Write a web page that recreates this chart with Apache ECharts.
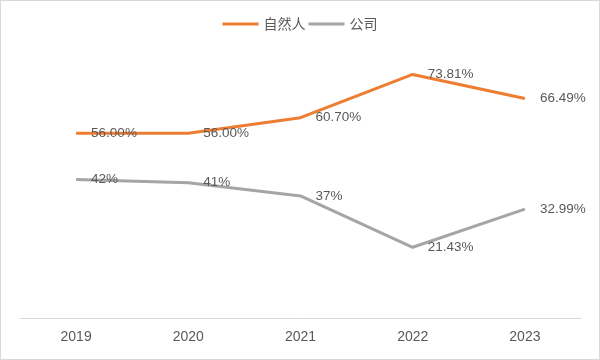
<!DOCTYPE html>
<html><head><meta charset="utf-8">
<script src="https://cdn.jsdelivr.net/npm/echarts@6/dist/echarts.min.js"></script>
<style>html,body{margin:0;padding:0;background:#fff}#c{width:600px;height:360px;box-sizing:border-box;border:1px solid #d9d9d9}</style>
</head><body><div id="c"></div>
<script>
const categories = ['2019','2020','2021','2022','2023'];
const naturalPerson = [56.00, 56.00, 60.70, 73.81, 66.49];
const naturalLabels = ['56.00%','56.00%','60.70%','73.81%','66.49%'];
const company = [42, 41, 37, 21.43, 32.99];
const companyLabels = ['42%','41%','37%','21.43%','32.99%'];
const seriesNames = ['自然人','公司'];

const font = '"Liberation Sans Narrow", "Arial Narrow", sans-serif';
const chart = echarts.init(document.getElementById('c'));
function mk(name, vals, labels, color){
  return {
    name, type:'line', data: vals, symbol:'circle', symbolSize:0, showSymbol:true, smooth:false,
    lineStyle:{width:3, color}, itemStyle:{color},
    label:{show:true, position:'right', distance:15, color:'#595959', fontSize:13.5, fontFamily:font,
      formatter: p => labels[p.dataIndex]}
  };
}
chart.setOption({
  animation:false,
  legend:{top:11, left:'center', itemWidth:36, itemHeight:3, itemGap:3,
    textStyle:{color:'#595959', fontSize:14, fontFamily:'"Noto Sans CJK SC", sans-serif'},
    data: seriesNames.map((n,i)=>({name:n, icon:'rect'}))},
  grid:{left:19, right:18, top:53, bottom:41},
  xAxis:{type:'category', data:categories, boundaryGap:true,
    axisLine:{lineStyle:{color:'#d9d9d9', width:1}}, axisTick:{show:false},
    axisLabel:{color:'#595959', fontSize:14, fontFamily:font, margin:12}},
  yAxis:{type:'value', min:0, max:80, show:false, splitLine:{show:false}},
  series:[mk(seriesNames[0], naturalPerson, naturalLabels, '#ED7D31'),
          mk(seriesNames[1], company, companyLabels, '#A5A5A5')]
});
</script></body></html>
